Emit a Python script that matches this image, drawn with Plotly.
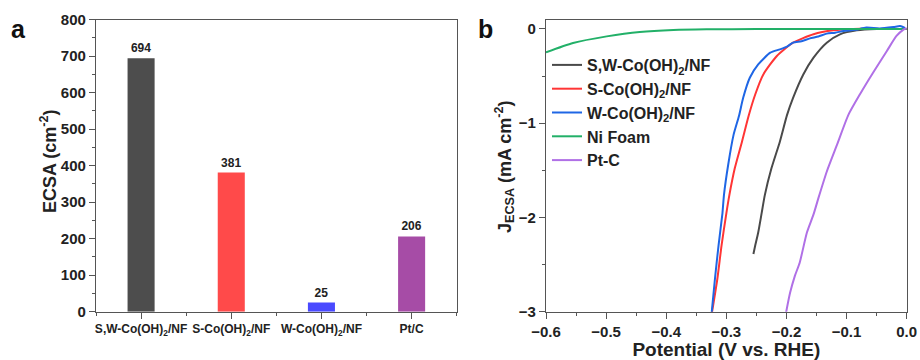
import plotly.graph_objects as go

# ---------------- data ----------------
categories = ["S,W-Co(OH)<sub>2</sub>/NF", "S-Co(OH)<sub>2</sub>/NF",
              "W-Co(OH)<sub>2</sub>/NF", "Pt/C"]
ecsa = [694, 381, 25, 206]
bar_colors = ["#4d4d4d", "#ff4a4a", "#4a4aff", "#a64ca6"]

sw_v = [-0.255, -0.252, -0.247, -0.241, -0.236, -0.225, -0.211, -0.199, -0.189,
        -0.172, -0.155, -0.133, -0.111, -0.083, -0.050, -0.020, 0.0]
sw_j = [-2.387, -2.298, -2.16, -1.944, -1.763, -1.479, -1.196, -0.912, -0.731,
        -0.483, -0.305, -0.146, -0.057, -0.015, 0.0, 0.0, 0.0]

s_v = [-0.325, -0.315, -0.308, -0.300, -0.295, -0.286, -0.274, -0.263, -0.252,
       -0.2385, -0.216, -0.189, -0.155, -0.122, -0.089, -0.050, 0.0]
s_j = [-3.05, -2.653, -2.298, -1.956, -1.763, -1.479, -1.196, -0.924, -0.696,
       -0.483, -0.287, -0.146, -0.057, -0.015, 0.0, 0.0, 0.0]

w_v = [-0.325, -0.319, -0.313, -0.3065, -0.304, -0.297, -0.288, -0.279, -0.272,
       -0.261, -0.247, -0.227, -0.211, -0.200, -0.189, -0.175, -0.161, -0.147,
       -0.133, -0.119, -0.105, -0.086, -0.067, -0.045, -0.022, -0.011, -0.003]
w_j = [-3.05, -2.653, -2.298, -1.956, -1.763, -1.444, -1.124, -0.924, -0.731,
       -0.518, -0.377, -0.252, -0.217, -0.19, -0.146, -0.13, -0.100, -0.08,
       -0.050, -0.04, -0.021, -0.01, 0.014, 0.005, 0.02, 0.03, 0.01]

ni_v = [-0.6, -0.555, -0.499, -0.444, -0.388, -0.333, -0.25, -0.15, 0.0]
ni_j = [-0.249, -0.149, -0.079, -0.032, -0.011, -0.004, -0.002, -0.001, 0.0]

pt_v = [-0.201, -0.194, -0.186, -0.178, -0.166, -0.155, -0.147, -0.133, -0.116,
        -0.097, -0.078, -0.056, -0.033, -0.017, -0.006, 0.0]
pt_j = [-3.02, -2.80, -2.62, -2.48, -2.16, -1.968, -1.798, -1.515, -1.231,
        -0.912, -0.696, -0.465, -0.234, -0.074, -0.01, 0.01]

lsv_names = ["S,W-Co(OH)<sub>2</sub>/NF", "S-Co(OH)<sub>2</sub>/NF",
             "W-Co(OH)<sub>2</sub>/NF", "Ni Foam", "Pt-C"]
lsv_colors = ["#4a4a4a", "#ff3535", "#1f66e5", "#22b068", "#b070e6"]
lsv_x = [sw_v, s_v, w_v, ni_v, pt_v]
lsv_y = [sw_j, s_j, w_j, ni_j, pt_j]

left_yticks = [0, 100, 200, 300, 400, 500, 600, 700, 800]
right_xticks = [-0.6, -0.5, -0.4, -0.3, -0.2, -0.1, 0.0]
right_yticks = [-3, -2, -1, 0]

# ---------------- figure ----------------
FONT = "Liberation Sans, Arial, sans-serif"
W, H = 920, 360
AX = "#555555"

fig = go.Figure()

xpos = list(range(len(categories)))
fig.add_trace(go.Bar(
    x=xpos, y=ecsa, width=0.3, marker=dict(color=bar_colors, line=dict(width=0)),
    text=[str(v) for v in ecsa], textposition="outside", cliponaxis=False,
    textfont=dict(family=FONT, size=12, color="#222222", weight="bold"),
    showlegend=False, xaxis="x", yaxis="y"))

for name, col, xv, yv in zip(lsv_names, lsv_colors, lsv_x, lsv_y):
    fig.add_trace(go.Scatter(x=xv, y=yv, mode="lines", name=name,
                             line=dict(color=col, width=2, shape="spline",
                                       smoothing=0.6),
                             xaxis="x2", yaxis="y2"))

ydom = [1 - 311.7 / H, 1 - 19.5 / H]
tickfont = dict(family=FONT, size=15, color="#222222", weight="bold")
common = dict(showline=True, linecolor=AX, linewidth=1.3, mirror=True,
              ticks="outside", ticklen=6, tickwidth=1.2, tickcolor=AX,
              showgrid=False, zeroline=False, automargin=False)
title_font = dict(family=FONT, size=18, color="#222222", weight="bold")

fig.update_layout(
    template="none",
    width=W, height=H, margin=dict(l=0, r=0, t=0, b=0),
    paper_bgcolor="white", plot_bgcolor="white",
    font=dict(family=FONT, color="#222222"),
    xaxis=dict(domain=[96 / W, 456.7 / W], anchor="y", range=[-0.5, 3.5],
               tickvals=xpos, ticktext=categories,
               tickfont=dict(family=FONT, size=12, color="#222222", weight="bold"),
               minor=dict(tick0=0.5, dtick=1, ticks="outside", ticklen=3,
                          tickcolor=AX, tickwidth=1.2),
               **common),
    yaxis=dict(domain=ydom, anchor="x", range=[0, 800], tickvals=left_yticks,
               tickfont=tickfont,
               minor=dict(dtick=50, ticks="outside", ticklen=3, tickcolor=AX,
                          tickwidth=1.2),
               **common),
    xaxis2=dict(domain=[546 / W, 906.7 / W], anchor="y2", range=[-0.6, 0.0],
                tickvals=right_xticks, tickformat=".1f", tickfont=tickfont,
                minor=dict(dtick=0.05, ticks="outside", ticklen=3,
                           tickcolor=AX, tickwidth=1.2),
                title=dict(text="Potential (V vs. RHE)",
                           font=dict(family=FONT, size=19, color="#222222",
                                     weight="bold")),
                **common),
    yaxis2=dict(domain=ydom, anchor="x2", range=[-3, 0.1],
                tickvals=right_yticks, tickfont=tickfont,
                minor=dict(dtick=0.5, ticks="outside", ticklen=3,
                           tickcolor=AX, tickwidth=1.2),
                **common),
    legend=dict(x=547 / W, y=1 - 48 / H, xanchor="left", yanchor="top",
                bgcolor="rgba(0,0,0,0)", borderwidth=0, tracegroupgap=0,
                font=dict(family=FONT, size=16, color="#222222", weight="bold")),
    annotations=[
        dict(text="ECSA (cm<sup>-2</sup>)", x=48 / W, y=1 - 161 / H,
             xref="paper", yref="paper", showarrow=False, textangle=-90,
             xanchor="center", yanchor="middle", font=title_font),
        dict(text="J<sub>ECSA</sub> (mA cm<sup>-2</sup>)", x=504 / W,
             y=1 - 166 / H, xref="paper", yref="paper", showarrow=False,
             textangle=-90, xanchor="center", yanchor="middle",
             font=title_font),
        dict(text="a", x=18 / W, y=1 - 29 / H, xref="paper", yref="paper",
             showarrow=False, xanchor="center", yanchor="middle",
             font=dict(family=FONT, size=25, color="#111111", weight="bold")),
        dict(text="b", x=485 / W, y=1 - 29 / H, xref="paper", yref="paper",
             showarrow=False, xanchor="center", yanchor="middle",
             font=dict(family=FONT, size=25, color="#111111", weight="bold")),
    ],
)

fig.write_html("out.html")
